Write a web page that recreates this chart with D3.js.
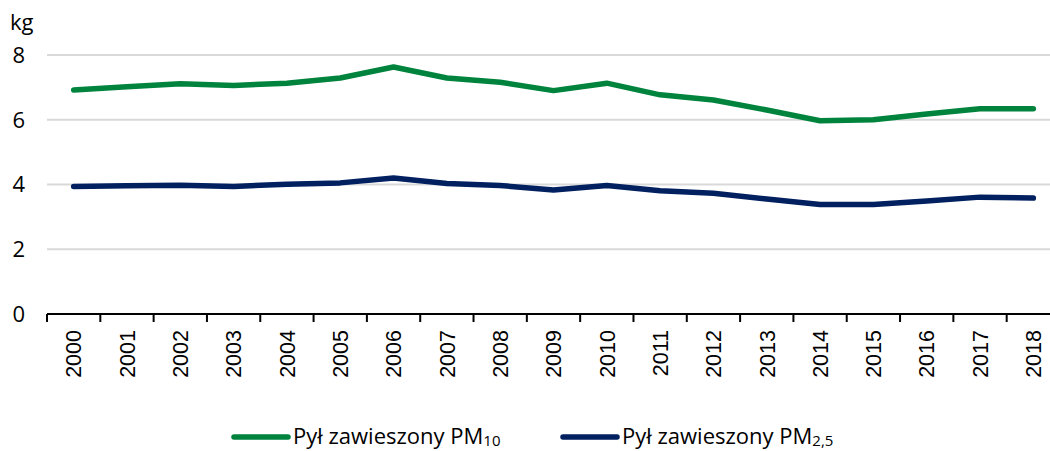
<!DOCTYPE html>
<html>
<head>
<meta charset="utf-8">
<script src="https://cdnjs.cloudflare.com/ajax/libs/d3/7.8.5/d3.min.js"></script>
<style>
  body { margin: 0; background: #fff; }
  svg { display: block; }
</style>
</head>
<body>
<div id="chart"></div>
<script>
var width = 1050,
    height = 451;

// years on the x axis
var years = ["2000","2001","2002","2003","2004","2005","2006","2007","2008","2009",
             "2010","2011","2012","2013","2014","2015","2016","2017","2018"];

// kg per capita
var pm10 = [6.92,7.02,7.11,7.06,7.13,7.29,7.63,7.29,7.16,6.90,
            7.13,6.77,6.61,6.30,5.97,6.00,6.18,6.34,6.34];
var pm25 = [3.94,3.96,3.98,3.94,4.01,4.05,4.20,4.03,3.97,3.83,
            3.97,3.81,3.73,3.55,3.38,3.38,3.49,3.61,3.58];

var yTicks = [0, 2, 4, 6, 8];

var green = "#00843d",
    navy = "#002060";

var svg = d3.select("#chart").append("svg")
    .attr("width", width)
    .attr("height", height);

var x = d3.scaleBand()
    .domain(years)
    .range([47, 1060])
    .padding(0);

var y = d3.scaleLinear()
    .domain([0, 8])
    .range([314, 55]);

// gridlines
svg.append("g")
  .selectAll("line")
  .data(yTicks.filter(function(d) { return d > 0; }))
  .enter().append("line")
    .attr("x1", 47)
    .attr("x2", width)
    .attr("y1", function(d) { return y(d); })
    .attr("y2", function(d) { return y(d); })
    .style("stroke", "#d9d9d9")
    .style("stroke-width", 1.8);

// y labels
svg.append("g")
  .selectAll("text")
  .data(yTicks)
  .enter().append("text")
    .attr("x", 25)
    .attr("y", function(d) { return y(d); })
    .attr("dy", "0.36em")
    .attr("text-anchor", "end")
    .style("font-family", "'Open Sans', sans-serif")
    .style("font-size", "22px")
    .style("fill", "#000")
    .text(function(d) { return d; });

svg.append("text")
    .attr("x", 10)
    .attr("y", 30)
    .style("font-family", "'Open Sans', sans-serif")
    .style("font-size", "22px")
    .text("kg");

// x axis line and ticks at band edges
var axisG = svg.append("g");
axisG.append("line")
    .attr("x1", 47)
    .attr("x2", width)
    .attr("y1", y(0))
    .attr("y2", y(0))
    .style("stroke", "#000")
    .style("stroke-width", 2);

axisG.selectAll("line.tick")
  .data(years)
  .enter().append("line")
    .attr("class", "tick")
    .attr("x1", function(d) { return x(d); })
    .attr("x2", function(d) { return x(d); })
    .attr("y1", y(0))
    .attr("y2", y(0) + 8)
    .style("stroke", "#000")
    .style("stroke-width", 2);

axisG.selectAll("text")
  .data(years)
  .enter().append("text")
    .attr("transform", function(d) {
      return "translate(" + (x(d) + x.bandwidth() / 2) + "," + (y(0) + 16) + ") rotate(-90)";
    })
    .attr("dy", "0.36em")
    .attr("text-anchor", "end")
    .style("font-family", "'Liberation Sans', Arial, sans-serif")
    .style("font-size", "21.5px")
    .text(function(d) { return d; });

// lines
var line = d3.line()
    .x(function(d, i) { return x(years[i]) + x.bandwidth() / 2; })
    .y(function(d) { return y(d); });

[[pm10, green], [pm25, navy]].forEach(function(s) {
  svg.append("path")
      .datum(s[0])
      .attr("d", line)
      .style("fill", "none")
      .style("stroke", s[1])
      .style("stroke-width", 5.5)
      .style("stroke-linecap", "round")
      .style("stroke-linejoin", "round");
});

// legend
var legend = [
  { color: green, x: 232, label: "Pył zawieszony PM", sub: "10" },
  { color: navy, x: 561, label: "Pył zawieszony PM", sub: "2,5" }
];

var lg = svg.append("g").selectAll("g")
  .data(legend)
  .enter().append("g")
    .attr("transform", function(d) { return "translate(" + d.x + ",437)"; });

lg.append("line")
    .attr("x1", 2)
    .attr("x2", 56)
    .style("stroke", function(d) { return d.color; })
    .style("stroke-width", 5.5)
    .style("stroke-linecap", "round");

var lt = lg.append("text")
    .attr("x", 61)
    .attr("dy", "0.32em")
    .style("font-family", "'Open Sans', sans-serif")
    .style("font-size", "22px");
lt.append("tspan").text(function(d) { return d.label; });
lt.append("tspan")
    .attr("dy", "2")
    .style("font-size", "15px")
    .text(function(d) { return d.sub; });
</script>
</body>
</html>
